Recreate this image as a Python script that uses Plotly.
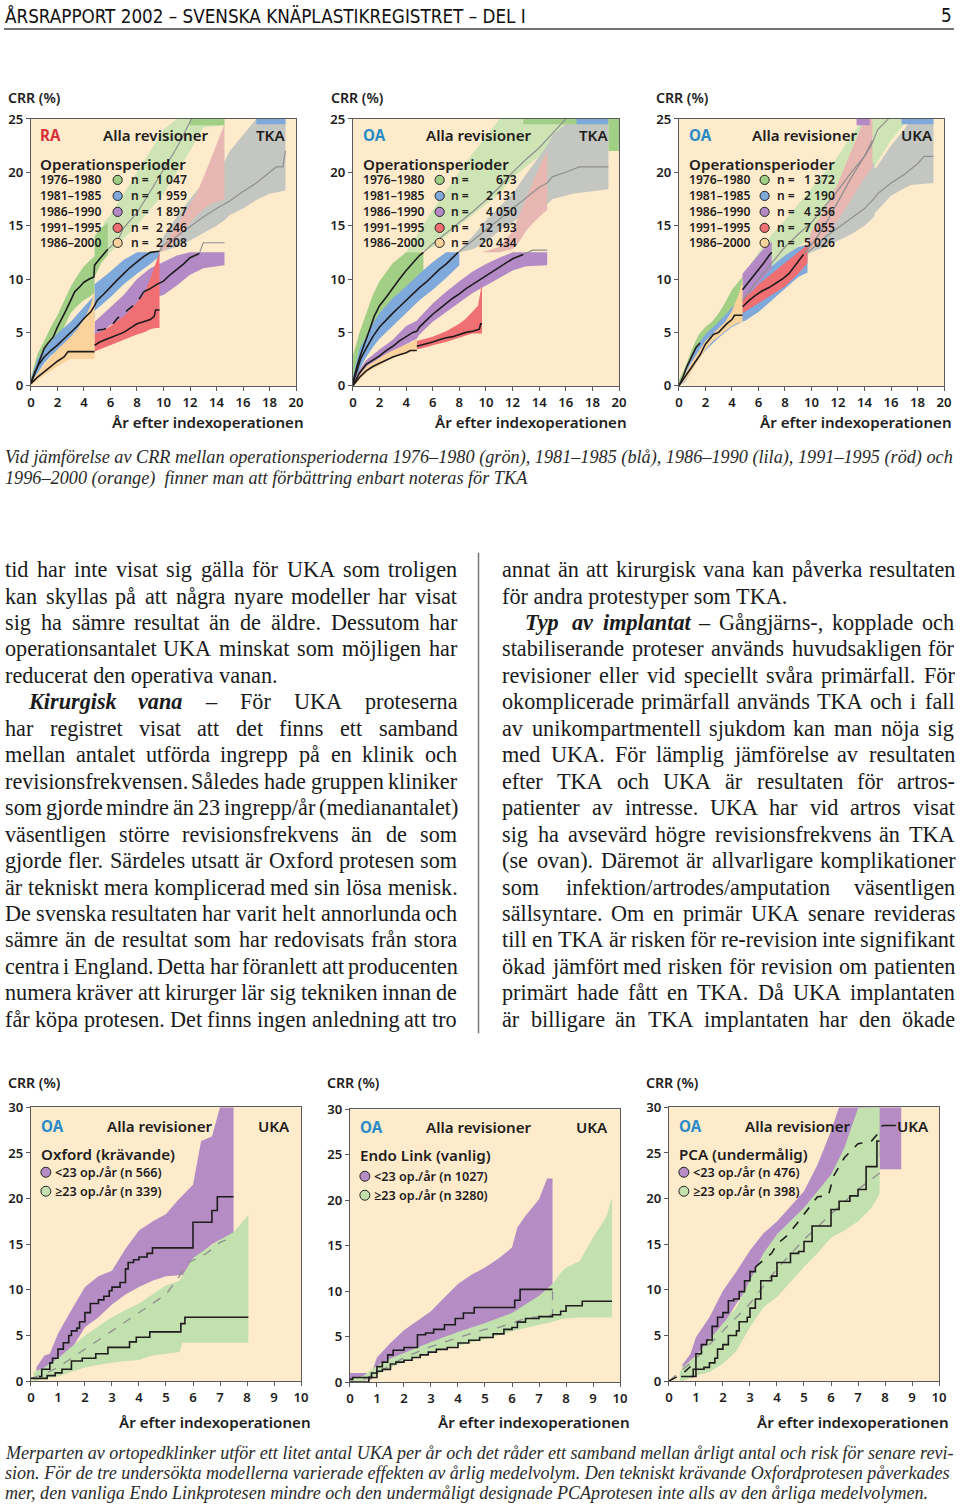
import plotly.graph_objects as go

W, H = 960, 1508

# ===================== DATA =====================
T_XTICKS = list(range(0, 21, 2))
T_YTICKS = list(range(0, 26, 5))
B_XTICKS = list(range(0, 11))
B_YTICKS = list(range(0, 31, 5))

PERIODS = ["1976–1980", "1981–1985", "1986–1990", "1991–1995", "1986–2000"]
T1_N = ["1 047", "1 959", "1 897", "2 246", "2 208"]
T2_N = ["673", "2 131", "4 050", "12 193", "20 434"]
T3_N = ["1 372", "2 190", "4 356", "7 055", "5 026"]

# T1: RA, TKA
T1_GF_X = [5.5, 6, 7, 8, 9, 10, 11, 12, 13, 14.6]
T1_GF_LO = [12.2, 12.5, 13.8, 15, 16.5, 18, 20, 22, 24.2, 24.4]
T1_GF_HI = [15.3, 16, 18, 20, 22, 24, 25, 25, 25, 25]
T1_GF_MX = [5.8, 6.5, 7, 8, 9, 10, 11, 11.5, 12.1]
T1_GF_MY = [12.8, 13.5, 14.8, 16.2, 18.2, 20.3, 22.3, 23.5, 25]
T1_GR_X = [9.7, 10, 11, 12, 13, 14, 14.6, 15, 16, 17, 18, 19.2]
T1_GR_LO = [12.5, 12.6, 13, 13.6, 14.3, 15, 15.5, 16, 16.6, 17.4, 18, 18.3]
T1_GR_HI = [12.8, 14, 15.8, 17.5, 19, 20.3, 21, 22, 23.5, 25, 25, 25]
T1_GR_MX = [9.7, 10, 11, 12, 13, 14, 15, 16, 17, 18, 18.5, 19, 19.2]
T1_GR_MY = [12.6, 13.2, 14.0, 14.9, 15.8, 16.6, 17.3, 18.2, 19.0, 20.0, 20.5, 20.5, 22.0]
T1_PK_X = [9.7, 10.5, 11.5, 12.5, 13.5, 14.6]
T1_PK_LO = [12.5, 13, 14.5, 16, 17, 17.5]
T1_PK_HI = [12.5, 14, 16, 18, 21, 24.5]
T1_SG_X = [12, 14.6]
T1_SG_LO = [24.4, 24.4]
T1_SG_HI = [25, 25]
T1_SB_X = [17, 19.2]
T1_SB_LO = [24.5, 24.5]
T1_SB_HI = [25, 25]
T1_G_X = [0, 0.5, 1, 1.5, 2, 2.5, 3, 3.5, 4, 4.5, 4.8, 4.8, 5.3, 5.8]
T1_G_LO = [0.2, 1.2, 2.2, 3.2, 4, 5.5, 6.8, 7.5, 8, 8.4, 8.7, 10.2, 11.5, 12.2]
T1_G_HI = [0.8, 3, 4.2, 5.5, 6.6, 8, 9.3, 10.3, 11.2, 11.8, 12.1, 14, 14.8, 15.3]
T1_G_MX = [0, 0.3, 0.6, 1, 1.3, 1.7, 2, 2.3, 2.7, 3, 3.3, 3.7, 4, 4.4, 4.75, 4.8, 5.1, 5.4, 5.8]
T1_G_MY = [0.2, 1.2, 2.3, 3.5, 4.0, 4.6, 5.5, 6.2, 7.2, 8.0, 8.8, 9.3, 9.7, 10.0, 10.2, 11.3, 11.8, 12.2, 12.8]
T1_B_X = [0, 0.5, 1, 1.5, 2, 3, 4, 4.8, 4.8, 6, 7, 8, 9, 9.7]
T1_B_LO = [0.1, 1.2, 2.1, 2.8, 3.3, 4.3, 5.6, 6.4, 7.0, 8.3, 9.5, 10.5, 11.4, 12.1]
T1_B_HI = [0.6, 2.5, 3.4, 4.2, 4.9, 6.0, 7.4, 8.5, 9.5, 10.7, 11.8, 12.5, 12.5, 12.5]
T1_B_MX = [0, 0.3, 0.6, 1, 1.5, 2, 2.5, 3, 3.5, 4, 4.5, 4.8, 5, 5.5, 6, 6.5, 7, 7.5, 8, 8.5, 9, 9.7]
T1_B_MY = [0.3, 1.3, 2.0, 2.7, 3.3, 3.8, 4.4, 5.0, 5.6, 6.3, 6.9, 7.5, 8.0, 8.6, 9.3, 9.9, 10.5, 11.1, 11.6, 12.1, 12.5, 12.6]
T1_P_X = [4.8, 5.5, 6, 7, 8, 9, 10, 11, 12, 13, 14.6]
T1_P_LO = [4.5, 5.2, 5.7, 6.3, 7.2, 8.2, 8.5, 9.4, 10.4, 11.0, 11.3]
T1_P_HI = [6.0, 6.8, 7.3, 8.5, 10, 11, 11.6, 12.2, 12.5, 12.5, 12.5]
T1_P_DX = [5.0, 5.5, 6, 6.5, 7, 8, 8.5]
T1_P_DY = [5.2, 5.3, 5.5, 6.3, 6.8, 7.8, 8.8]
T1_P_MX = [8.5, 9, 9.5, 10, 10.5, 11, 11.5, 12, 12.7]
T1_P_MY = [8.8, 9.1, 9.5, 9.8, 10.4, 10.9, 11.4, 12.0, 12.4]
T1_P_GX = [12.7, 13.0, 14.6]
T1_P_GY = [12.4, 13.4, 13.4]
T1_R_X = [4.8, 5.5, 6, 7, 8, 8.5, 9, 9.4, 9.7]
T1_R_LO = [3.2, 3.5, 3.8, 4.3, 4.8, 5.0, 5.3, 5.4, 5.4]
T1_R_HI = [4.8, 5.2, 5.6, 6.5, 7.8, 8.5, 10, 11.5, 12.5]
T1_R_MX = [4.8, 5.2, 5.6, 6, 6.5, 7, 7.5, 8, 8.5, 9, 9.3, 9.4, 9.7]
T1_R_MY = [3.8, 4.1, 4.3, 4.5, 4.8, 5.0, 5.4, 5.8, 6.0, 6.2, 6.5, 7.1, 7.1]
T1_O_X = [0, 0.5, 1, 1.5, 2, 2.5, 3, 3.5, 4, 4.5, 4.8, 4.8]
T1_O_LO = [0.0, 0.5, 1.0, 1.4, 1.8, 2.2, 2.5, 2.5, 2.5, 2.5, 2.5, 2.5]
T1_O_HI = [0.4, 1.2, 2.0, 2.7, 3.4, 4.0, 4.6, 5.3, 6.2, 7.5, 9, 12.5]
T1_O_MX = [0, 0.5, 1, 1.5, 2, 2.5, 2.8, 4.8]
T1_O_MY = [0.2, 0.8, 1.3, 1.8, 2.3, 2.7, 3.2, 3.2]

# T2: OA, TKA
T2_GF_X = [4, 5, 6, 7, 8, 9, 10, 11, 12, 13, 14, 15, 16, 17, 19.2]
T2_GF_LO = [12.5, 12.5, 13, 14, 15, 16, 17, 18, 19.5, 20.5, 21.5, 22.5, 23.5, 24.5, 24.5]
T2_GF_HI = [12.5, 14.5, 16.5, 18.3, 20, 21.8, 23.3, 25, 25, 25, 25, 25, 25, 25, 25]
T2_GF_MX = [5.3, 6, 7, 8, 9, 10, 11, 12, 13, 14, 15, 15.5, 16]
T2_GF_MY = [12.5, 13.3, 14.3, 15.3, 16.3, 17.4, 18.6, 20.0, 21.2, 22.3, 23.6, 24.3, 25]
T2_GR_X = [8, 9, 10, 11, 12, 13, 14, 14.6, 15, 16, 16.5, 19.2]
T2_GR_LO = [12.5, 12.8, 13.5, 14.5, 15.3, 16.2, 16.8, 17.0, 17.5, 17.8, 18.0, 18.4]
T2_GR_HI = [12.7, 14, 15.5, 16.8, 18, 19.8, 21.5, 22.5, 23.5, 24.5, 25, 25]
T2_GR_MX = [7.9, 9, 10, 11, 12, 13, 14, 14.6, 15, 16, 17, 19.2]
T2_GR_MY = [12.5, 13.6, 14.6, 15.6, 16.6, 17.6, 18.6, 19.0, 19.6, 20.0, 20.5, 20.5]
T2_PK_X = [9.7, 11, 12, 12.5, 13, 13.5, 14, 14.6]
T2_PK_LO = [12.5, 12.5, 12.8, 13.5, 14.5, 15.2, 15.8, 16.5]
T2_PK_HI = [12.5, 13, 14.5, 16, 17.5, 19, 20.5, 22]
T2_SG_X = [12.8, 19.2]
T2_SG_LO = [24.5, 24.5]
T2_SG_HI = [25, 25]
T2_SB_X = [16.8, 19.2]
T2_SB_LO = [24.5, 24.5]
T2_SB_HI = [25, 25]
T2_SE_X = [19.2, 20]
T2_SE_LO = [22, 22]
T2_SE_HI = [25, 25]
T2_G_X = [0, 0.5, 1, 1.5, 2, 3, 4, 5, 5.3]
T2_G_LO = [0, 1.8, 3.3, 4.6, 5.7, 7.3, 8.8, 10.2, 10.7]
T2_G_HI = [2.8, 5.0, 6.8, 8.5, 9.8, 11.5, 12.5, 12.5, 12.5]
T2_G_MX = [0, 0.3, 0.6, 1, 1.3, 1.6, 2, 2.5, 3, 3.5, 4, 4.5, 5, 5.3]
T2_G_MY = [0.3, 1.8, 3.0, 4.3, 5.4, 6.5, 7.5, 8.3, 9.2, 10.0, 10.8, 11.5, 12.2, 12.5]
T2_B_X = [0, 0.5, 1, 1.5, 2, 3, 4, 5, 6, 7, 8]
T2_B_LO = [0, 1.5, 2.7, 3.6, 4.4, 5.6, 6.8, 8.0, 9.0, 10.1, 11.3]
T2_B_HI = [0.8, 3.5, 4.6, 5.8, 6.8, 8.2, 9.3, 10.5, 11.6, 12.5, 12.5]
T2_B_MX = [0, 0.3, 0.6, 1, 1.5, 2, 2.5, 3, 3.5, 4, 4.5, 5, 5.5, 6, 6.5, 7, 7.5, 7.9]
T2_B_MY = [0.2, 1.5, 2.6, 3.5, 4.6, 5.5, 6.2, 6.8, 7.4, 8.0, 8.6, 9.2, 9.7, 10.3, 10.9, 11.4, 12.0, 12.5]
T2_P_X = [0, 0.5, 1, 2, 3, 4, 4.8, 5, 6, 7, 8, 9, 10, 11, 12, 13, 14.6]
T2_P_LO = [0, 0.8, 1.6, 2.3, 3.1, 3.9, 4.4, 4.8, 6.0, 6.9, 7.8, 8.7, 9.4, 10.1, 10.8, 11.2, 11.3]
T2_P_HI = [0.3, 1.5, 2.4, 3.4, 4.3, 5.6, 6.1, 6.4, 7.7, 8.8, 9.8, 10.7, 11.4, 12.0, 12.5, 12.5, 12.5]
T2_P_MX = [0, 0.5, 1, 1.5, 2, 2.5, 3, 3.5, 4, 4.5, 4.8, 5, 5.5, 6, 6.5, 7, 7.5, 8, 8.5, 9, 9.5, 10, 10.5, 11, 11.5, 12, 12.8]
T2_P_MY = [0, 1.2, 2.0, 2.4, 2.8, 3.3, 3.7, 4.2, 4.6, 5.0, 5.1, 5.5, 6.1, 6.7, 7.2, 7.7, 8.2, 8.6, 9.1, 9.5, 9.9, 10.3, 10.7, 11.1, 11.5, 11.9, 12.3]
T2_P_GX = [12.8, 13.5, 14.6]
T2_P_GY = [12.3, 12.7, 12.7]
T2_R_X = [4.8, 5.5, 6, 7, 8, 8.5, 9, 9.4, 9.7]
T2_R_LO = [3.4, 3.6, 3.8, 4.1, 4.5, 4.7, 4.9, 4.9, 4.9]
T2_R_HI = [4.2, 4.4, 4.6, 5.1, 5.8, 6.3, 7.0, 7.5, 9.6]
T2_R_MX = [4.8, 5.5, 6, 6.5, 7, 7.5, 8, 8.5, 9, 9.5, 9.6, 9.7]
T2_R_MY = [3.7, 3.9, 4.1, 4.3, 4.5, 4.6, 4.8, 5.0, 5.1, 5.3, 5.8, 5.8]
T2_O_X = [0, 0.5, 1, 1.5, 2, 2.5, 3, 3.5, 4, 4.5, 4.8]
T2_O_LO = [0, 0.5, 1.2, 1.6, 1.9, 2.3, 2.6, 2.8, 3.0, 3.2, 3.3]
T2_O_HI = [0.2, 1.0, 1.8, 2.2, 2.6, 3.0, 3.3, 3.6, 3.9, 4.1, 4.4]
T2_O_MX = [0, 0.5, 1, 1.5, 2, 2.5, 3, 3.5, 4, 4.3, 4.8]
T2_O_MY = [0, 0.8, 1.4, 1.8, 2.1, 2.4, 2.7, 2.9, 3.1, 3.3, 3.3]

# T3: OA, UKA
T3_GF_X = [4.8, 5.5, 6, 7, 8, 9, 10, 11, 12, 13, 14, 15, 16, 17]
T3_GF_LO = [7.5, 8.5, 9.3, 10.5, 11.8, 13, 14, 15.5, 16.5, 17.5, 19, 21, 23, 24.5]
T3_GF_HI = [10.2, 11.5, 12.5, 14.2, 15.5, 17, 18.5, 20, 21.5, 23.5, 25, 25, 25, 25]
T3_GF_MX = [4.8, 6, 7, 8, 9, 10, 11, 12, 13, 14, 14.5, 15, 15.8]
T3_GF_MY = [8, 10, 11.5, 13, 14.2, 15.3, 16.8, 18.3, 20, 21.5, 22.5, 24, 25]
T3_GR_X = [9.7, 10, 11, 12, 13, 14, 14.7, 14.8, 16, 17, 17.5, 19.2]
T3_GR_LO = [12.3, 12.5, 13, 13.6, 14.2, 15.0, 15.8, 16.2, 17.8, 18.5, 18.8, 19.0]
T3_GR_HI = [13.2, 14, 15.5, 17.0, 18.5, 20, 21, 20.3, 22.5, 24.0, 25, 25]
T3_GR_MX = [9.7, 10.5, 11, 12, 13, 14, 14.7, 15, 16, 17, 18, 18.5, 19.2]
T3_GR_MY = [12.5, 13.3, 13.9, 14.8, 15.7, 16.6, 17.5, 18.0, 19.0, 19.8, 20.8, 21.5, 21.5]
T3_PK_X = [9.7, 10, 11, 12, 12.5, 13, 13.5, 14, 14.6]
T3_PK_LO = [12.5, 12.8, 14, 15.5, 16.5, 17.5, 18.5, 19.5, 20.5]
T3_PK_HI = [13.2, 14.5, 16.5, 19, 20.5, 22, 23.5, 25, 25]
T3_PK_MX = [9.4, 10, 11, 12, 13, 14, 14.6]
T3_PK_MY = [12.3, 13.2, 15, 17.2, 19.5, 21.5, 23]
T3_SB_X = [16.8, 19.2]
T3_SB_LO = [24.5, 24.5]
T3_SB_HI = [25, 25]
T3_SP_X = [13.4, 14.4]
T3_SP_LO = [24.4, 24.4]
T3_SP_HI = [25, 25]
T3_G_X = [0, 0.5, 1, 1.5, 2, 2.5, 3, 3.5, 4, 4.8]
T3_G_LO = [0, 0.6, 1.8, 2.8, 3.6, 4.3, 5.0, 5.6, 6.3, 7.3]
T3_G_HI = [0.5, 1.8, 3.5, 4.8, 5.5, 6.0, 6.8, 7.8, 9.0, 10.2]
T3_G_MX = [0, 0.3, 0.6, 1, 1.3, 1.6]
T3_G_MY = [0, 0.8, 1.8, 2.8, 3.6, 4.0]
T3_B_X = [0, 0.5, 1, 1.5, 2, 3, 4, 4.8, 5, 6, 7, 8, 9, 9.7]
T3_B_LO = [0, 0.4, 1.5, 2.5, 3.3, 4.5, 5.5, 6.0, 6.1, 6.9, 8.0, 9.1, 10.2, 10.6]
T3_B_HI = [0.3, 1.3, 3.0, 4.0, 4.8, 6.0, 7.3, 8.3, 9.3, 10.2, 11.2, 12.2, 13, 13.2]
T3_P_X = [4.8, 5.5, 6, 6.5, 7]
T3_P_LO = [8, 8.8, 9.6, 10.3, 11.0]
T3_P_HI = [10.5, 11.5, 12.3, 13, 13.5]
T3_P_MX = [4.8, 5.2, 5.6, 6, 6.4, 6.8, 7]
T3_P_MY = [9, 9.6, 10.2, 10.8, 11.5, 12.2, 12.5]
T3_R_X = [4.8, 5.5, 6, 7, 8, 9, 9.7]
T3_R_LO = [6.8, 7.3, 7.7, 8.5, 9.3, 10.5, 11.5]
T3_R_HI = [8.1, 8.8, 9.5, 10.5, 11.5, 12.5, 13.2]
T3_R_MX = [4.8, 5.3, 5.8, 6.3, 6.8, 7.3, 7.8, 8.3, 8.8, 9.2, 9.4]
T3_R_MY = [7.4, 8.0, 8.5, 8.9, 9.2, 9.6, 10.0, 10.5, 11.3, 11.9, 12.3]
T3_O_X = [0, 0.5, 1, 1.5, 2, 2.5, 3, 3.5, 4, 4.5, 4.8, 4.8]
T3_O_LO = [0, 0.5, 1.5, 2.4, 3.4, 4.1, 4.6, 5.1, 5.6, 5.9, 6.0, 6.0]
T3_O_HI = [0.3, 1.2, 2.3, 3.2, 4.2, 4.8, 5.4, 6.0, 7.0, 8.5, 10, 12.5]
T3_O_MX = [0, 0.3, 0.6, 1, 1.3, 1.6, 2, 2.3, 2.6, 3, 3.3, 3.6, 4, 4.2, 4.8]
T3_O_MY = [0, 0.5, 1.1, 1.8, 2.3, 2.9, 3.9, 4.3, 4.8, 5.0, 5.4, 5.8, 6.2, 6.6, 6.6]

# ---- bottom charts ----
B1_LEG = ["&lt;23 op./år (n 566)", "≥23 op./år (n 339)"]
B2_LEG = ["&lt;23 op./år (n 1027)", "≥23 op./år (n 3280)"]
B3_LEG = ["&lt;23 op./år (n 476)", "≥23 op./år (n 398)"]

B1_P_X = [0.2, 0.5, 0.7, 1, 1.5, 2, 2.5, 3, 3.5, 4, 4.5, 5, 5.5, 6, 6.3, 6.7, 7, 7.5]
B1_P_LO = [0.3, 0.5, 0.8, 1.9, 3.5, 5.9, 7.0, 8.4, 9.5, 10.3, 11.0, 11.5, 11.6, 11.7, 14.0, 15.0, 15.5, 15.8]
B1_P_HI = [1.5, 2.8, 3.0, 5.2, 7.8, 10.3, 11.5, 12.1, 14.5, 16.5, 17.5, 18.3, 20, 21.5, 26.3, 26.8, 30, 30]
B1_P_MX = [0.3, 0.4, 0.7, 0.8, 1.0, 1.2, 1.4, 1.5, 1.7, 1.8, 2.0, 2.2, 2.5, 2.7, 2.9, 3.0, 3.3, 3.5, 3.6, 3.8, 4.0, 4.3, 4.5, 5.9, 6.0, 6.6, 6.7, 6.9, 7.5]
B1_P_MY = [0.5, 1.3, 2.0, 2.5, 3.5, 4.2, 5.0, 5.5, 5.8, 6.5, 7.5, 8.5, 8.9, 9.3, 9.9, 10.3, 10.8, 12.3, 13.0, 13.3, 13.6, 14.0, 14.6, 14.6, 17.4, 17.4, 18.7, 20.2, 20.2]
B1_G_X = [0.1, 0.5, 1, 1.5, 2, 2.5, 3, 3.5, 4, 4.5, 5, 5.5, 5.6, 6, 6.5, 7, 7.5, 8, 8.05]
B1_G_LO = [0, 0.3, 0.5, 1.0, 1.5, 1.8, 2.0, 2.2, 2.3, 2.8, 3.0, 3.2, 4.2, 4.2, 4.2, 4.2, 4.2, 4.2, 4.2]
B1_G_HI = [1.0, 1.5, 2.5, 3.8, 5.0, 6.0, 7.0, 7.8, 8.5, 9.5, 10.5, 11.0, 11.5, 13.5, 14.5, 15.5, 16.3, 18.0, 18.3]
B1_G_MX = [0, 0.6, 0.9, 1.15, 1.5, 1.9, 2.4, 2.85, 3.65, 3.9, 4.4, 5.55, 5.7, 8.05]
B1_G_MY = [0.3, 0.6, 0.9, 1.3, 2.2, 2.5, 3.0, 3.7, 4.3, 4.8, 5.4, 6.3, 7.0, 7.0]
B1_D_X = [0, 0.5, 1, 2, 3, 4, 5, 5.5, 5.8, 6.2, 6.5, 7, 7.5]
B1_D_Y = [0.3, 0.8, 1.5, 3.5, 5.5, 7.5, 9.5, 11.5, 13.0, 13.5, 14.0, 15.2, 15.8]

B2_P_X = [0, 0.8, 1, 1.5, 2, 2.5, 3, 3.5, 4, 4.5, 5, 5.5, 6, 6.2, 6.5, 7, 7.3, 7.5]
B2_P_LO = [0, 0.3, 1.3, 2.1, 2.9, 3.6, 4.2, 4.8, 5.3, 5.9, 6.4, 6.8, 7.1, 7.4, 7.8, 8.3, 8.8, 9.0]
B2_P_HI = [1.0, 1.0, 2.7, 4.3, 5.7, 6.8, 7.8, 9.3, 10.8, 11.8, 12.6, 13.6, 14.8, 17.0, 18.3, 20.1, 22.4, 22.4]
B2_P_MX = [0, 0.1, 0.8, 1.0, 1.2, 1.4, 1.6, 2.0, 2.5, 2.8, 3.1, 3.5, 3.9, 4.2, 4.6, 6.1, 6.3, 7.5]
B2_P_MY = [0.3, 0.5, 1.0, 1.7, 2.2, 3.0, 3.5, 3.8, 5.2, 5.4, 5.8, 6.3, 7.0, 7.6, 8.2, 9.0, 10.2, 10.2]
B2_G_X = [0, 0.5, 1, 1.5, 2, 3, 4, 5, 6, 7, 7.5, 7.8, 8, 8.5, 9, 9.5, 9.7]
B2_G_LO = [0, 0.1, 0.8, 1.6, 2.2, 3.2, 4.0, 4.7, 5.6, 6.3, 6.6, 6.9, 7.0, 7.1, 7.1, 7.1, 7.1]
B2_G_HI = [0.3, 0.7, 1.8, 2.6, 3.2, 4.4, 5.5, 6.5, 7.6, 9.5, 10.8, 12.0, 12.6, 13.3, 15.9, 18.2, 20.3]
B2_G_MX = [0, 0.7, 1.0, 1.2, 1.5, 1.7, 2.0, 2.3, 2.6, 2.9, 3.2, 3.6, 4.0, 4.4, 4.8, 5.3, 5.7, 6.0, 6.2, 6.5, 7.0, 7.5, 7.8, 8.0, 8.6, 9.7]
B2_G_MY = [0, 0.5, 1.2, 1.4, 2.0, 2.2, 2.4, 2.7, 3.0, 3.3, 3.6, 3.8, 4.3, 4.6, 4.9, 5.3, 5.8, 6.0, 6.6, 7.0, 7.2, 7.4, 7.8, 8.4, 8.9, 8.9]
B2_D_X = [0.5, 1, 2, 3, 4, 5, 5.5, 6, 6.5, 7, 7.5, 7.5]
B2_D_Y = [0.3, 1.0, 2.7, 3.9, 4.9, 5.8, 6.0, 6.5, 7.0, 7.2, 7.4, 10.2]

B3_P_X = [0.5, 0.8, 1, 1.5, 2, 2.5, 3, 3.5, 4, 4.5, 5, 5.5, 6, 6.3, 7, 7.8, 7.8, 8.6]
B3_P_LO = [0.5, 0.8, 2.0, 3.5, 6.0, 8.5, 10.5, 12.5, 14.0, 15.5, 17.0, 18.5, 20.0, 21.0, 23.0, 24.5, 23.2, 23.2]
B3_P_HI = [1.8, 3.0, 4.8, 7.0, 9.9, 12.0, 14.3, 16.2, 17.5, 19.2, 20.8, 23.7, 27.4, 30, 30, 30, 30, 30]
B3_P_SX = [0.8, 1.0, 1.2, 1.4, 1.6, 1.8, 2.0, 2.2, 2.4, 2.6, 2.8, 3.0, 3.2]
B3_P_SY = [0.5, 3.0, 4.0, 4.5, 6.0, 7.0, 7.5, 8.8, 9.0, 9.8, 11.0, 12.0, 12.5]
B3_P_DX = [0, 0.5, 0.8]
B3_P_DY = [0, 0.8, 1.6]
B3_P_MX = [3.2, 3.5, 3.8, 4.0, 4.4, 4.8, 5.2, 5.5, 5.9, 6.1, 6.5, 7.0, 7.5, 7.7, 7.9]
B3_P_MY = [12.5, 13.2, 14.0, 15.0, 16.0, 17.5, 19.0, 20.2, 20.3, 22.5, 24.5, 26.0, 26.3, 27.0, 28.0]
B3_P_EX = [7.9, 8.4]
B3_P_EY = [28.0, 28.0]
B3_G_X = [0.4, 0.5, 1, 1.5, 2, 2.5, 3, 3.5, 4, 4.5, 5, 5.5, 6, 6.5, 7, 7.5, 7.8]
B3_G_LO = [0, 0, 0.6, 1.0, 1.9, 3.3, 5.9, 8.1, 9.2, 10.8, 12.5, 14.0, 15.7, 16.5, 17.5, 19.0, 20.5]
B3_G_HI = [1.0, 1.5, 2.8, 4.5, 6.3, 8.1, 11.0, 14.0, 16.1, 17.5, 19.0, 20.8, 22.6, 25.6, 29.9, 30, 30]
B3_G_MX = [0.45, 0.9, 1.3, 1.5, 1.7, 1.8, 2.0, 2.2, 2.5, 2.6, 2.9, 3.0, 3.2, 3.4, 3.8, 4.0, 4.5, 4.8, 5.0, 5.3, 5.7, 6.0, 6.3, 6.7, 7.0, 7.3, 7.6, 7.7, 7.8]
B3_G_MY = [0.5, 1.3, 1.5, 2.0, 2.5, 3.5, 4.0, 5.0, 5.5, 6.5, 7.0, 8.0, 9.0, 11.0, 11.5, 13.0, 14.0, 14.2, 15.3, 17.0, 17.0, 18.8, 19.7, 20.3, 21.0, 23.5, 23.5, 26.3, 26.3]
B3_D_X = [0, 1, 2, 3, 4, 5, 6, 7, 7.8]
B3_D_Y = [0, 2.5, 5.5, 8.5, 12.3, 15.5, 18.3, 21.0, 22.8]

# ---- text ----
HEADER = "ÅRSRAPPORT 2002 – SVENSKA KNÄPLASTIKREGISTRET – DEL I"
PAGE_NO = "5"
CAPTION_TOP = [
    "Vid jämförelse av CRR mellan operationsperioderna 1976–1980 (grön), 1981–1985 (blå), 1986–1990 (lila), 1991–1995 (röd) och",
    "1996–2000 (orange)  finner man att förbättring enbart noteras för TKA",
]
CAPTION_BOTTOM = [
    "Merparten av ortopedklinker utför ett litet antal UKA per år och det råder ett samband mellan årligt antal och risk för senare revi-",
    "sion. För de tre undersökta modellerna varierade effekten av årlig medelvolym. Den tekniskt krävande Oxfordprotesen påverkades",
    "mer, den vanliga Endo Linkprotesen mindre och den undermåligt designade PCAprotesen inte alls av den årliga medelvolymen.",
]
COL1 = [
    "tid har inte visat sig gälla för UKA som troligen",
    "kan skyllas på att några nyare modeller har visat",
    "sig ha sämre resultat än de äldre. Dessutom har",
    "operationsantalet UKA minskat som möjligen har",
    "reducerat den operativa vanan.",
    "*Kirurgisk *vana – För UKA proteserna",
    "har registret visat att det finns ett samband",
    "mellan antalet utförda ingrepp på en klinik och",
    "revisionsfrekvensen. Således hade gruppen kliniker",
    "som gjorde mindre än 23 ingrepp/år (medianantalet)",
    "väsentligen större revisionsfrekvens än de som",
    "gjorde fler. Särdeles utsatt är Oxford protesen som",
    "är tekniskt mera komplicerad med sin lösa menisk.",
    "De svenska resultaten har varit helt annorlunda och",
    "sämre än de resultat som har redovisats från stora",
    "centra i England. Detta har föranlett att producenten",
    "numera kräver att kirurger lär sig tekniken innan de",
    "får köpa protesen. Det finns ingen anledning att tro",
]
COL1_INDENT = {5}
COL1_LAST = {4}
COL2 = [
    "annat än att kirurgisk vana kan påverka resultaten",
    "för andra protestyper som TKA.",
    "*Typ *av *implantat – Gångjärns-, kopplade och",
    "stabiliserande proteser används huvudsakligen för",
    "revisioner eller vid speciellt svåra primärfall. För",
    "okomplicerade primärfall används TKA och i fall",
    "av unikompartmentell sjukdom kan man nöja sig",
    "med UKA. För lämplig jämförelse av resultaten",
    "efter TKA och UKA är resultaten för artros-",
    "patienter av intresse. UKA har vid artros visat",
    "sig ha avsevärd högre revisionsfrekvens än TKA",
    "(se ovan). Däremot är allvarligare komplikationer",
    "som infektion/artrodes/amputation väsentligen",
    "sällsyntare. Om en primär UKA senare revideras",
    "till en TKA är risken för re-revision inte signifikant",
    "ökad jämfört med risken för revision om patienten",
    "primärt hade fått en TKA. Då UKA implantaten",
    "är billigare än TKA implantaten har den ökade",
]
COL2_INDENT = {2}
COL2_LAST = {1}

# ===================== STYLE =====================
C_BG = "#FEEBCB"
C_GREEN = "#A1CF86"
C_GREEN_F = "#CFE4B4"
C_BLUE = "#7FA8DB"
C_GRAY = "#C4C7C1"
C_PURPLE = "#B38AC6"
C_RED = "#EF6F73"
C_PINK = "#E8B7B1"
C_ORANGE = "#FAD39C"
C_PURPLE2 = "#B58CC3"
C_GREEN2 = "#C3E1AE"
C_INK = "#1E1C1C"
C_MID = "#8F8F8F"
C_AXIS = "#5A5A5A"
SANS = "Noto Sans, Open Sans, sans-serif"
SERIF = "Liberation Serif, DejaVu Serif, serif"
NARROW = "Liberation Sans Narrow, DejaVu Sans Condensed, sans-serif"

# The photographed page shows the figure slightly inset and scaled;
# positions below are given in target-picture pixels and mapped here.
OX, SX = 4.0, 0.9906
OY, SY = 9.0, 0.9887
FS = 1.0 / ((SX + SY) / 2)


def fx(p):
    return ((p - OX) / SX) / W


def fy(p):
    return 1 - ((p - OY) / SY) / H


fig = go.Figure()
annotations = []
shapes = []

CHARTS = [
    dict(x0=31, x1=297, y0=119, y1=386, xr=[0, 20], yr=[0, 25], xt=T_XTICKS, yt=T_YTICKS),
    dict(x0=354, x1=621, y0=119, y1=386, xr=[0, 20], yr=[0, 25], xt=T_XTICKS, yt=T_YTICKS),
    dict(x0=681, x1=947, y0=119, y1=386, xr=[0, 20], yr=[0, 25], xt=T_XTICKS, yt=T_YTICKS),
    dict(x0=31, x1=302, y0=1108, y1=1382, xr=[0, 10], yr=[0, 30], xt=B_XTICKS, yt=B_YTICKS),
    dict(x0=351, x1=622, y0=1110, y1=1383, xr=[0, 10], yr=[0, 30], xt=B_XTICKS, yt=B_YTICKS),
    dict(x0=671, x1=942, y0=1108, y1=1382, xr=[0, 10], yr=[0, 30], xt=B_XTICKS, yt=B_YTICKS),
]

layout_axes = {}
for i, c in enumerate(CHARTS):
    k = "" if i == 0 else str(i + 1)
    common = dict(showgrid=False, zeroline=False, showline=True, mirror=True,
                  linecolor=C_AXIS, linewidth=1, ticks="outside", ticklen=4,
                  tickcolor=C_AXIS, tickfont=dict(family=SANS, size=13 * FS, color=C_INK, weight=600),
                  fixedrange=True, tickmode="array")
    layout_axes["xaxis" + k] = dict(common, domain=[fx(c["x0"]), fx(c["x1"])], range=c["xr"],
                                    tickvals=c["xt"], anchor="y" + k)
    layout_axes["yaxis" + k] = dict(common, domain=[fy(c["y1"]), fy(c["y0"])], range=c["yr"],
                                    tickvals=c["yt"], anchor="x" + k)


def band(ax, xs, lo, hi, color, opacity=1.0):
    k = "" if ax == 1 else str(ax)
    fig.add_trace(go.Scatter(x=list(xs) + list(xs)[::-1], y=list(hi) + list(lo)[::-1],
                             fill="toself", fillcolor=color, opacity=opacity,
                             line=dict(width=0), mode="lines", hoverinfo="skip",
                             showlegend=False, xaxis="x" + k, yaxis="y" + k))


def curve(ax, xs, ys, color=C_INK, width=1.6, dash="solid", shape="linear"):
    k = "" if ax == 1 else str(ax)
    fig.add_trace(go.Scatter(x=xs, y=ys, mode="lines",
                             line=dict(color=color, width=width, dash=dash, shape=shape),
                             hoverinfo="skip", showlegend=False, xaxis="x" + k, yaxis="y" + k))


# ---- T1 ----
band(1, T1_GF_X, T1_GF_LO, T1_GF_HI, C_GREEN_F)
band(1, T1_GR_X, T1_GR_LO, T1_GR_HI, C_GRAY)
band(1, T1_PK_X, T1_PK_LO, T1_PK_HI, C_PINK)
band(1, T1_SG_X, T1_SG_LO, T1_SG_HI, C_GREEN)
band(1, T1_SB_X, T1_SB_LO, T1_SB_HI, C_BLUE)
band(1, T1_G_X, T1_G_LO, T1_G_HI, C_GREEN)
band(1, T1_B_X, T1_B_LO, T1_B_HI, C_BLUE)
band(1, T1_P_X, T1_P_LO, T1_P_HI, C_PURPLE)
band(1, T1_R_X, T1_R_LO, T1_R_HI, C_RED)
band(1, T1_O_X, T1_O_LO, T1_O_HI, C_ORANGE)
curve(1, T1_GF_MX, T1_GF_MY, C_MID, 1.2)
curve(1, T1_GR_MX, T1_GR_MY, C_MID, 1.2)
curve(1, T1_P_GX, T1_P_GY, C_MID, 1.2)
curve(1, T1_G_MX, T1_G_MY)
curve(1, T1_B_MX, T1_B_MY)
curve(1, T1_P_DX, T1_P_DY, dash="dash")
curve(1, T1_P_MX, T1_P_MY)
curve(1, T1_R_MX, T1_R_MY)
curve(1, T1_O_MX, T1_O_MY)

# ---- T2 ----
band(2, T2_GF_X, T2_GF_LO, T2_GF_HI, C_GREEN_F)
band(2, T2_GR_X, T2_GR_LO, T2_GR_HI, C_GRAY)
band(2, T2_PK_X, T2_PK_LO, T2_PK_HI, C_PINK)
band(2, T2_SG_X, T2_SG_LO, T2_SG_HI, C_GREEN)
band(2, T2_SB_X, T2_SB_LO, T2_SB_HI, C_BLUE)
band(2, T2_SE_X, T2_SE_LO, T2_SE_HI, C_GREEN)
band(2, T2_G_X, T2_G_LO, T2_G_HI, C_GREEN)
band(2, T2_B_X, T2_B_LO, T2_B_HI, C_BLUE)
band(2, T2_P_X, T2_P_LO, T2_P_HI, C_PURPLE)
band(2, T2_R_X, T2_R_LO, T2_R_HI, C_RED)
band(2, T2_O_X, T2_O_LO, T2_O_HI, C_ORANGE)
curve(2, T2_GF_MX, T2_GF_MY, C_MID, 1.2)
curve(2, T2_GR_MX, T2_GR_MY, C_MID, 1.2)
curve(2, T2_P_GX, T2_P_GY, C_MID, 1.2)
curve(2, T2_G_MX, T2_G_MY)
curve(2, T2_B_MX, T2_B_MY)
curve(2, T2_P_MX, T2_P_MY)
curve(2, T2_R_MX, T2_R_MY)
curve(2, T2_O_MX, T2_O_MY)

# ---- T3 ----
band(3, T3_GF_X, T3_GF_LO, T3_GF_HI, C_GREEN_F)
band(3, T3_GR_X, T3_GR_LO, T3_GR_HI, C_GRAY)
band(3, T3_PK_X, T3_PK_LO, T3_PK_HI, C_PINK)
band(3, T3_SB_X, T3_SB_LO, T3_SB_HI, C_BLUE)
band(3, T3_SP_X, T3_SP_LO, T3_SP_HI, C_PURPLE)
band(3, T3_G_X, T3_G_LO, T3_G_HI, C_GREEN)
band(3, T3_B_X, T3_B_LO, T3_B_HI, C_BLUE)
band(3, T3_P_X, T3_P_LO, T3_P_HI, C_PURPLE)
band(3, T3_R_X, T3_R_LO, T3_R_HI, C_RED)
band(3, T3_O_X, T3_O_LO, T3_O_HI, C_ORANGE)
curve(3, T3_GF_MX, T3_GF_MY, C_MID, 1.2)
curve(3, T3_GR_MX, T3_GR_MY, C_MID, 1.2)
curve(3, T3_PK_MX, T3_PK_MY, C_MID, 1.2)
curve(3, T3_G_MX, T3_G_MY)
curve(3, T3_P_MX, T3_P_MY)
curve(3, T3_R_MX, T3_R_MY)
curve(3, T3_O_MX, T3_O_MY)

# ---- bottom ----
band(4, B1_P_X, B1_P_LO, B1_P_HI, C_PURPLE2)
band(4, B1_G_X, B1_G_LO, B1_G_HI, C_GREEN2)
curve(4, B1_D_X, B1_D_Y, C_MID, 1.3, dash="dash")
curve(4, B1_P_MX, B1_P_MY, shape="hv")
curve(4, B1_G_MX, B1_G_MY, shape="hv")

band(5, B2_P_X, B2_P_LO, B2_P_HI, C_PURPLE2)
band(5, B2_G_X, B2_G_LO, B2_G_HI, C_GREEN2)
curve(5, B2_D_X, B2_D_Y, C_MID, 1.3, dash="dash")
curve(5, B2_P_MX, B2_P_MY, shape="hv")
curve(5, B2_G_MX, B2_G_MY, shape="hv")

band(6, B3_P_X, B3_P_LO, B3_P_HI, C_PURPLE2)
band(6, B3_G_X, B3_G_LO, B3_G_HI, C_GREEN2)
curve(6, B3_D_X, B3_D_Y, C_MID, 1.3, dash="dash")
curve(6, B3_P_DX, B3_P_DY, dash="dash")
curve(6, B3_P_SX, B3_P_SY, shape="hv")
curve(6, B3_P_MX, B3_P_MY, dash="dash")
curve(6, B3_P_EX, B3_P_EY)
curve(6, B3_G_MX, B3_G_MY, shape="hv")


# ===================== TEXT =====================
def ann(text, x, y, size=13, xanchor="left", color=C_INK, family=SANS, weight=600):
    annotations.append(dict(text=text, x=fx(x), y=fy(y), xref="paper", yref="paper",
                            xanchor=xanchor, yanchor="middle", showarrow=False,
                            borderpad=0, borderwidth=0,
                            font=dict(family=family, size=size * FS, color=color, weight=weight)))


def circle(cx, cy, r, color):
    shapes.append(dict(type="circle", xref="paper", yref="paper",
                       x0=fx(cx - r), x1=fx(cx + r), y0=fy(cy + r), y1=fy(cy - r),
                       fillcolor=color, line=dict(color="#222222", width=1)))


ann(HEADER, 5, 16, size=18.5, family=NARROW, weight=400, color="#111111")
ann(PAGE_NO, 955, 16, size=18.5, family=NARROW, weight=400, xanchor="right", color="#111111")
shapes.append(dict(type="line", xref="paper", yref="paper", x0=fx(4), x1=fx(957),
                   y0=fy(29), y1=fy(29), line=dict(color="#444444", width=1.5)))

TOP_INFO = [
    dict(ox=0, tag="RA", tagc="#D8333C", kind="TKA", ns=T1_N, lab=40, cir=118, nq=131, nr=188),
    dict(ox=324, tag="OA", tagc="#2A8BC6", kind="TKA", ns=T2_N, lab=364, cir=441, nq=452, nr=519),
    dict(ox=650, tag="OA", tagc="#2A8BC6", kind="UKA", ns=T3_N, lab=691, cir=767, nq=779, nr=838),
]
ROW_Y = [180, 196, 212, 228, 243]
ROW_C = [C_GREEN, C_BLUE, C_PURPLE, C_RED, C_ORANGE]
for i, t in enumerate(TOP_INFO):
    c = CHARTS[i]
    ann("CRR (%)", t["ox"] + 8, 98, size=14)
    ann("År efter indexoperationen", c["x1"] + 8, 422, size=15, xanchor="right")
    ann(t["tag"], t["lab"], 135, size=15, color=t["tagc"], weight=700)
    ann("Alla revisioner", t["lab"] + 63, 135, size=15)
    ann(t["kind"], c["x1"] - 11, 135, size=15, xanchor="right")
    ann("Operationsperioder", t["lab"], 164, size=15)
    for j in range(5):
        ann(PERIODS[j], t["lab"], ROW_Y[j], size=12)
        circle(t["cir"], ROW_Y[j], 4.6, ROW_C[j])
        ann("n =", t["nq"], ROW_Y[j], size=12)
        ann(t["ns"][j], t["nr"], ROW_Y[j], size=12, xanchor="right")

BOT_INFO = [
    dict(ox=0, lab=41, ty=1127, title="Oxford (krävande)", leg=B1_LEG, rows=[1173, 1192], uka=291),
    dict(ox=320, lab=361, ty=1128, title="Endo Link (vanlig)", leg=B2_LEG, rows=[1177, 1196], uka=610),
    dict(ox=640, lab=681, ty=1127, title="PCA (undermålig)", leg=B3_LEG, rows=[1173, 1192], uka=932),
]
for i, t in enumerate(BOT_INFO):
    c = CHARTS[3 + i]
    ann("CRR (%)", t["ox"] + 8, 1083, size=14)
    ann("År efter indexoperationen", c["x1"] + 10, 1423, size=15, xanchor="right")
    ann("OA", t["lab"], t["ty"], size=15, color="#2A8BC6", weight=700)
    ann("Alla revisioner", t["lab"] + 66, t["ty"], size=15)
    ann("UKA", t["uka"], t["ty"], size=15, xanchor="right")
    ann(t["title"], t["lab"], t["ty"] + 28, size=15)
    for j, col in enumerate([C_PURPLE2, C_GREEN2]):
        circle(t["lab"] + 5, t["rows"][j], 5, col)
        ann(t["leg"][j], t["lab"] + 14, t["rows"][j], size=12.5)


def mk(spec):
    d = {}
    for tok in spec.split():
        d[tok[0]] = int(tok[1:])
    return d


ROMAN = mk("a444 b500 c444 d500 e444 f333 g500 h500 i278 j278 k500 l278 m778 n500 o500 p500 q500 "
           "r333 s389 t278 u500 v500 w722 x500 y500 z444 å444 ä444 ö500 é444 "
           "A722 B667 C667 D722 E611 F556 G722 H722 I333 J389 K722 L611 M889 N722 O722 P556 Q722 "
           "R667 S556 T611 U722 V722 W944 X722 Y722 Z611 Å722 Ä722 Ö722 "
           "0500 1500 2500 3500 4500 5500 6500 7500 8500 9500 .250 ,250 (333 )333 /278 -333 –500 :278 ;278")
ITAL = mk("a500 b500 c444 d500 e444 f278 g500 h500 i278 j278 k444 l278 m722 n500 o500 p500 q500 "
          "r389 s389 t278 u500 v444 w667 x444 y444 z389 å500 ä500 ö500 é444 "
          "A611 B611 C667 D722 E611 F611 G722 H722 I333 J444 K667 L556 M833 N667 O722 P611 Q722 "
          "R611 S500 T556 U722 V611 W833 X611 Y556 Z556 Å611 Ä611 Ö722 "
          "0500 1500 2500 3500 4500 5500 6500 7500 8500 9500 .250 ,250 (333 )333 /278 -333 –500 :278 ;278")


def units(word, table):
    return sum(table.get(ch, 500) for ch in word) / 1000.0


def text_line(line, x0, x1, yc, size, table, justify, color="#1A1A1A"):
    words = line.split()
    html, widths = [], []
    for w in words:
        if w.startswith("*"):
            html.append("<b><i>" + w[1:] + "</i></b>")
            widths.append(units(w[1:], table) * 1.03 * size)
        else:
            html.append(w)
            widths.append(units(w, table) * size)
    if not justify or len(words) < 2:
        ann(" ".join(html), x0, yc, size=size, family=SERIF, weight=400, color=color)
        return
    gap = (x1 - x0 - sum(widths)) / (len(words) - 1)
    x = x0
    for w, h in zip(widths, html):
        ann(h, x, yc, size=size, family=SERIF, weight=400, color=color)
        x += w + gap


def fit_size(lines, width, table, space=0.25):
    best = 99
    for ln in lines:
        ws = ln.split()
        u = sum(units(w.lstrip("*"), table) * (1.03 if w.startswith("*") else 1) for w in ws)
        best = min(best, width / (u + space * (len(ws) - 1)))
    return best


def caption_line(line, x0, yc, size):
    ann("<i>" + line + "</i>", x0, yc, size=size, family=SERIF, weight=400, color="#2A2A2A")


cap_size = fit_size(CAPTION_TOP[:1], 941, ITAL)
caption_line(CAPTION_TOP[0], 5, 458, cap_size)
caption_line(CAPTION_TOP[1], 5, 479, cap_size)

BODY_SIZE = min(22, fit_size([l for i, l in enumerate(COL1) if i not in COL1_LAST] +
                             [l for i, l in enumerate(COL2) if i not in COL2_LAST], 453, ROMAN, 0.17))
for col, x0, x1, indent, last in [(COL1, 5, 458, COL1_INDENT, COL1_LAST),
                                  (COL2, 504, 957, COL2_INDENT, COL2_LAST)]:
    for i, line in enumerate(col):
        yc = 570 + i * 26.47
        xs = x0 + 23 if i in indent else x0
        text_line(line, xs, x1, yc, BODY_SIZE, ROMAN, i not in last)

shapes.append(dict(type="line", xref="paper", yref="paper", x0=fx(480), x1=fx(480),
                   y0=fy(553), y1=fy(1034), line=dict(color="#777777", width=1.5)))

bcap = fit_size(CAPTION_BOTTOM[:2], 940, ITAL)
for i, line in enumerate(CAPTION_BOTTOM):
    caption_line(line, 5, 1454 + i * 20, bcap)

fig.update_layout(
    width=W, height=H, margin=dict(l=0, r=0, t=0, b=0),
    paper_bgcolor="white", plot_bgcolor=C_BG, showlegend=False,
    annotations=annotations, shapes=shapes, **layout_axes,
)

fig.write_html("out.html", config={"displayModeBar": False},
               post_script="document.body.style.margin='0';document.body.style.overflow='hidden';")
